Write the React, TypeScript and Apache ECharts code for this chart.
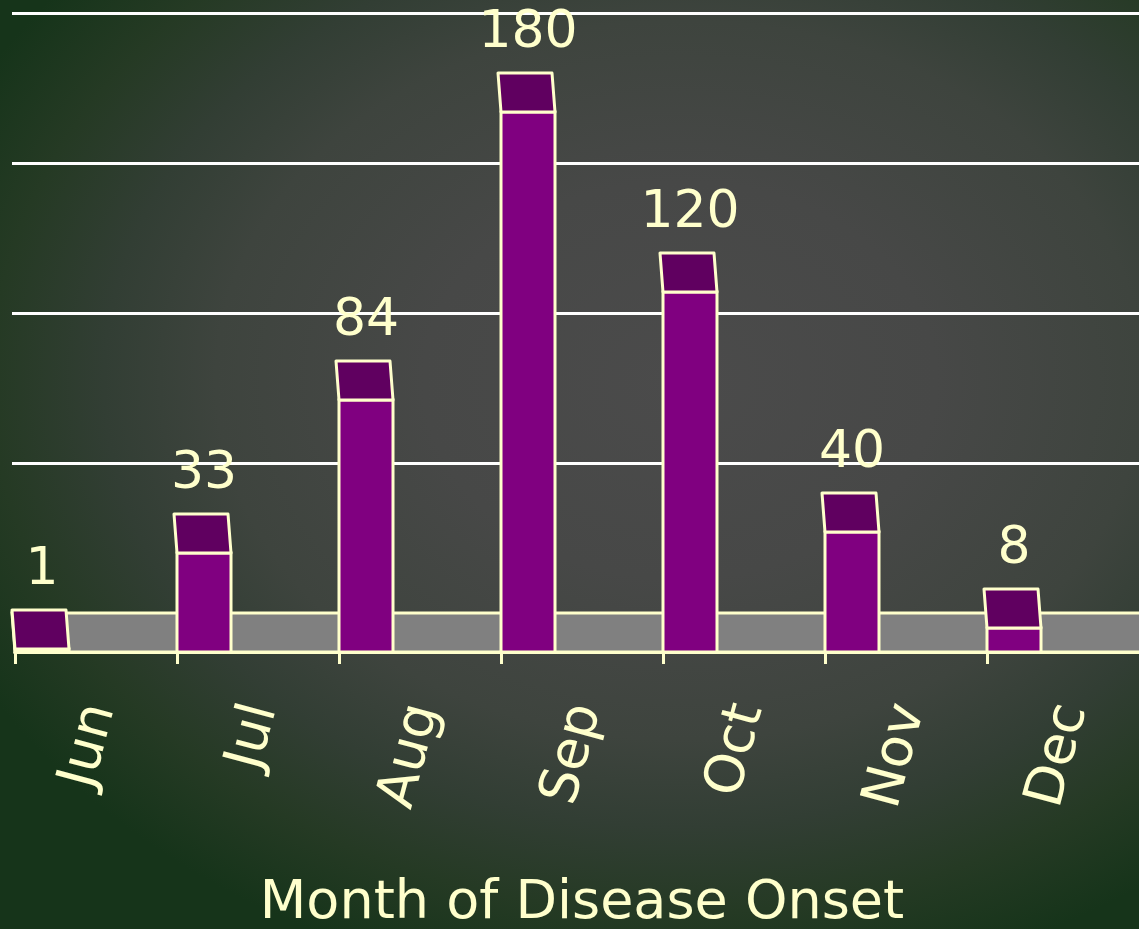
import React, { useEffect, useRef } from "react";
import * as echarts from "echarts";

const months = ["Jun", "Jul", "Aug", "Sep", "Oct", "Nov", "Dec"];
const cases = [1, 33, 84, 180, 120, 40, 8];
const wallMax = 200;
const wallInterval = 50;
const axisTitle = "Month of Disease Onset";

const TEXT = "#ffffcc";
const FONT = "DejaVu Sans";
const DEPTH = 13; // depth of the 3D effect, in value units
const SKEW = -3; // horizontal shift of the back edges, px

export default function App() {
  const ref = useRef<HTMLDivElement>(null);

  useEffect(() => {
    if (!ref.current) return;
    const chart = echarts.init(ref.current, null, { renderer: "svg" });

    const option: any = {
      animation: false,
      backgroundColor: "transparent",
      grid: [
        {
          left: 15,
          right: -10,
          top: 52,
          bottom: 277,
          containLabel: false,
          outerBoundsMode: "none",
        },
        {
          left: 12,
          right: -7,
          top: 13,
          bottom: 316,
          containLabel: false,
          outerBoundsMode: "none",
        },
      ],
      xAxis: [
        {
          gridIndex: 0,
          type: "category",
          data: months,
          boundaryGap: true,
          axisLine: { show: true, lineStyle: { color: TEXT, width: 3 } },
          axisTick: {
            show: true,
            alignWithLabel: false,
            length: 12,
            lineStyle: { color: TEXT, width: 3 },
          },
          axisLabel: {
            interval: 0,
            rotate: 75,
            margin: 52,
            color: TEXT,
            fontSize: 54,
            fontFamily: FONT,
          },
          name: axisTitle,
          nameLocation: "middle",
          nameGap: 220,
          nameTextStyle: { color: TEXT, fontSize: 54, fontFamily: FONT },
        },
        {
          gridIndex: 1,
          type: "category",
          data: months,
          show: false,
        },
      ],
      yAxis: [
        {
          gridIndex: 0,
          type: "value",
          min: 0,
          max: wallMax,
          interval: wallInterval,
          show: false,
          splitLine: { show: false },
        },
        {
          gridIndex: 1,
          type: "value",
          min: 0,
          max: wallMax,
          interval: wallInterval,
          axisLine: { show: false },
          axisTick: { show: false },
          axisLabel: { show: false },
          splitLine: { show: true, lineStyle: { color: "#ffffff", width: 3 } },
        },
      ],
      series: [
        {
          type: "custom",
          name: "floor",
          xAxisIndex: 0,
          yAxisIndex: 0,
          silent: true,
          data: [[0, 0]],
          encode: { x: 0, y: 1 },
          renderItem: (params: any, api: any) => {
            const cs = params.coordSys;
            const base = api.coord([0, 0])[1];
            const depth = api.size([0, DEPTH])[1];
            const x1 = cs.x;
            const x2 = cs.x + cs.width;
            return {
              type: "polygon",
              shape: {
                points: [
                  [x1, base],
                  [x2, base],
                  [x2 + SKEW, base - depth],
                  [x1 + SKEW, base - depth],
                ],
              },
              style: { fill: "#808080", stroke: TEXT, lineWidth: 3 },
            };
          },
        },
        {
          type: "custom",
          name: "Cases",
          xAxisIndex: 0,
          yAxisIndex: 0,
          data: months.map((m, i) => [i, cases[i]]),
          encode: { x: 0, y: 1 },
          renderItem: (params: any, api: any) => {
            const i = api.value(0);
            const v = api.value(1);
            const base = api.coord([i, 0]);
            const top = api.coord([i, v]);
            const band = api.size([1, 0])[0];
            const depth = api.size([0, DEPTH])[1];
            const w = band / 3;
            const x0 = base[0] - band / 2;
            const ty = top[1];
            return {
              type: "group",
              children: [
                {
                  type: "rect",
                  shape: { x: x0, y: ty, width: w, height: base[1] - ty },
                  style: { fill: "#800080", stroke: TEXT, lineWidth: 3 },
                },
                {
                  type: "polygon",
                  shape: {
                    points: [
                      [x0, ty],
                      [x0 + w, ty],
                      [x0 + w + SKEW, ty - depth],
                      [x0 + SKEW, ty - depth],
                    ],
                  },
                  style: {
                    fill: "#600060",
                    stroke: TEXT,
                    lineWidth: 3,
                    lineJoin: "round",
                  },
                },
                {
                  type: "text",
                  x: x0 + w / 2,
                  y: ty - depth - 44,
                  style: {
                    text: String(v),
                    fill: TEXT,
                    fontSize: 52,
                    fontFamily: FONT,
                    align: "center",
                    verticalAlign: "middle",
                  },
                },
              ],
            };
          },
        },
      ],
    };

    chart.setOption(option);
    return () => chart.dispose();
  }, []);

  return (
    <div
      style={{
        position: "fixed",
        left: 0,
        top: 0,
        width: 1139,
        height: 929,
        overflow: "hidden",
        background:
          "radial-gradient(800px 620px at 680px 380px, #4b4b4b 0%, #474847 32%, #3e443e 58%, #323e34 72%, #253a24 86%, #16341a 100%)",
      }}
    >
      <div ref={ref} style={{ width: 1139, height: 929 }} />
    </div>
  );
}
